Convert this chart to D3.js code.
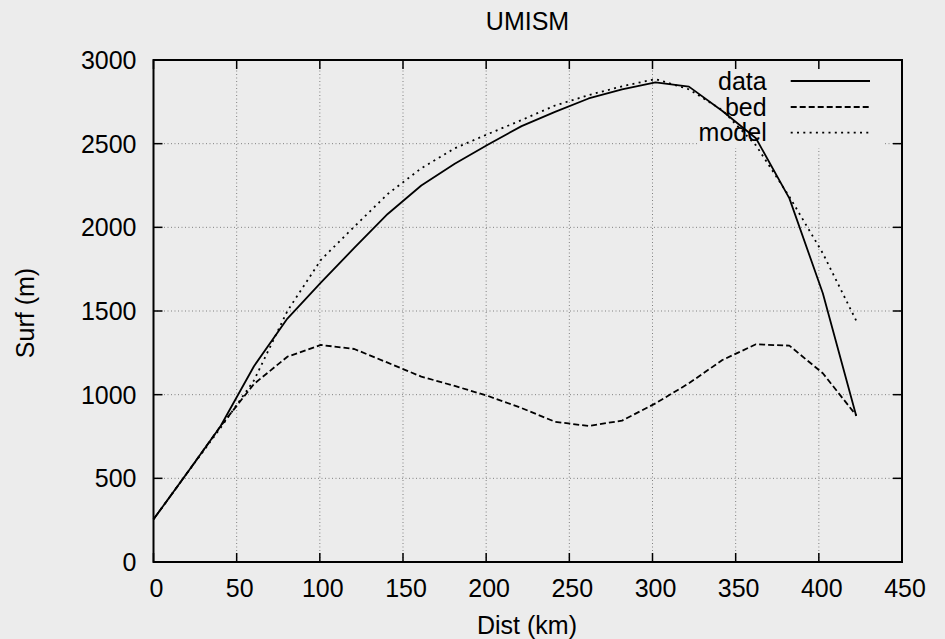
<!DOCTYPE html>
<html>
<head>
<meta charset="utf-8">
<script src="https://cdn.jsdelivr.net/npm/d3@7"></script>
<style>
  html, body { margin: 0; padding: 0; background: #ececec; }
  svg { display: block; }
  text { font-family: "Liberation Sans", Arial, Helvetica, sans-serif; fill: #000; }
</style>
</head>
<body>
<svg id="chart" width="945" height="639"></svg>
<script>
// ---- data ----
const dist  = [0, 20.1, 40.2, 60.4, 80.5, 100.6, 120.7, 140.8, 161.0, 181.1, 201.2, 221.3, 241.4, 261.6, 281.7, 301.8, 321.9, 342.0, 362.2, 382.3, 402.4, 422.5];
const surfData  = [255, 530, 810, 1170, 1455, 1670, 1877, 2080, 2250, 2380, 2495, 2605, 2690, 2770, 2825, 2866, 2841, 2695, 2532, 2173, 1606, 872];
const surfBed   = [255, 530, 810, 1064, 1227, 1297, 1273, 1191, 1108, 1052, 992, 920, 838, 813, 845, 948, 1068, 1207, 1301, 1293, 1128, 876];
const surfModel = [255, 530, 800, 1085, 1500, 1805, 2004, 2199, 2353, 2472, 2558, 2641, 2728, 2790, 2843, 2886, 2825, 2700, 2490, 2183, 1845, 1442];
const seriesNames = ["data", "bed", "model"];
const xTicks = [0, 50, 100, 150, 200, 250, 300, 350, 400, 450];
const yTicks = [0, 500, 1000, 1500, 2000, 2500, 3000];
const titleText = "UMISM";
const xLabel = "Dist (km)";
const yLabel = "Surf (m)";

// ---- layout ----
const L = 153.5, R = 902, T = 60, B = 562;
const FS = 25;
const svg = d3.select("#chart");
const x = d3.scaleLinear().domain([0, 450]).range([L, R]);
const y = d3.scaleLinear().domain([0, 3000]).range([B, T]);

// grid
const grid = svg.append("g").attr("stroke", "#808080").attr("stroke-width", 1).attr("stroke-dasharray", "1,2.5");
grid.selectAll(".gx").data(xTicks.filter(d => d > 0 && d < 450)).join("line")
  .attr("x1", d => x(d)).attr("x2", d => x(d)).attr("y1", T).attr("y2", B);
grid.selectAll(".gy").data(yTicks.filter(d => d > 0 && d < 3000)).join("line")
  .attr("y1", d => y(d)).attr("y2", d => y(d)).attr("x1", L).attr("x2", R);

// key area blanks the grid
svg.append("rect").attr("x", 697).attr("y", T + 1).attr("width", 188).attr("height", 87).attr("fill", "#ececec");

// ticks (inward, mirrored)
const tk = svg.append("g").attr("stroke", "#000").attr("stroke-width", 1.5);
xTicks.forEach(d => {
  tk.append("line").attr("x1", x(d)).attr("x2", x(d)).attr("y1", B).attr("y2", B - 9);
  tk.append("line").attr("x1", x(d)).attr("x2", x(d)).attr("y1", T).attr("y2", T + 9);
});
yTicks.forEach(d => {
  tk.append("line").attr("y1", y(d)).attr("y2", y(d)).attr("x1", L).attr("x2", L + 9);
  tk.append("line").attr("y1", y(d)).attr("y2", y(d)).attr("x1", R).attr("x2", R - 9);
});

// frame
svg.append("rect").attr("x", L).attr("y", T).attr("width", R - L).attr("height", B - T)
  .attr("fill", "none").attr("stroke", "#000").attr("stroke-width", 2);

// tick labels
svg.append("g").selectAll("text").data(xTicks).join("text")
  .attr("x", d => x(d) + 3).attr("y", 597).attr("text-anchor", "middle")
  .attr("font-size", FS).text(d => d);
svg.append("g").selectAll("text").data(yTicks).join("text")
  .attr("x", 136.5).attr("y", d => y(d) + 9).attr("text-anchor", "end")
  .attr("font-size", FS).text(d => d);

// titles
svg.append("text").attr("x", 527.5).attr("y", 30).attr("text-anchor", "middle").attr("font-size", FS).text(titleText);
svg.append("text").attr("x", 527).attr("y", 634).attr("text-anchor", "middle").attr("font-size", FS).text(xLabel);
svg.append("text").attr("transform", "translate(33.5,313) rotate(-90)").attr("text-anchor", "middle").attr("font-size", FS).text(yLabel);

// lines
const styles = [
  { vals: surfData, dash: null },
  { vals: surfBed, dash: "6,3" },
  { vals: surfModel, dash: "2,4.3" }
];
const line = d3.line().x(d => x(d[0])).y(d => y(d[1]));
styles.forEach(s => {
  const p = svg.append("path")
    .datum(dist.map((d, i) => [d, s.vals[i]]))
    .attr("d", line).attr("fill", "none").attr("stroke", "#000").attr("stroke-width", 1.8)
    .attr("stroke-linejoin", "round");
  if (s.dash) p.attr("stroke-dasharray", s.dash);
});

// legend
const keyY = [81, 107, 132.7];
seriesNames.forEach((n, i) => {
  svg.append("text").attr("x", 766.7).attr("y", keyY[i] + 8.5).attr("text-anchor", "end").attr("font-size", FS).text(n);
  const l = svg.append("line").attr("x1", 790.7).attr("x2", 870).attr("y1", keyY[i]).attr("y2", keyY[i])
    .attr("stroke", "#000").attr("stroke-width", 1.8);
  if (styles[i].dash) l.attr("stroke-dasharray", styles[i].dash);
});
</script>
</body>
</html>
